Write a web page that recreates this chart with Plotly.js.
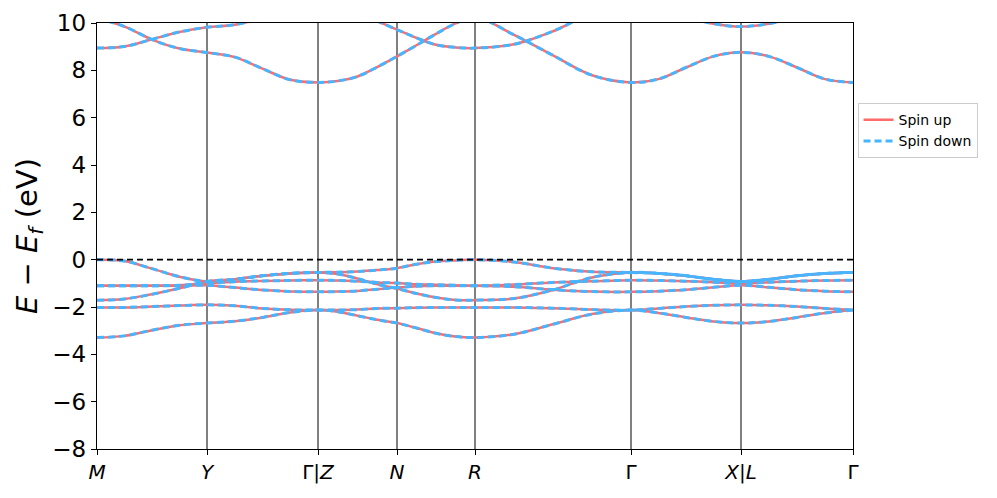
<!DOCTYPE html>
<html>
<head>
<meta charset="utf-8">
<script src="https://cdn.plot.ly/plotly-3.0.1.min.js"></script>
<style>
  html, body { margin: 0; padding: 0; background: #fff; }
  #chart { width: 997px; height: 498px; }
</style>
</head>
<body>
<div id="chart"></div>
<script>
// high-symmetry points along the k-path
const kTicks = [0, 1.10, 2.21, 3.00, 3.78, 5.34, 6.44, 7.56];
const kLabels = ['<i>M</i>', '<i>Y</i>', 'Γ|<i>Z</i>', '<i>N</i>', '<i>R</i>', 'Γ', '<i>X</i>|<i>L</i>', 'Γ'];

// band energies (eV) read at each high-symmetry point and the quarter points between them
const valence1 = [0, -0.06, -0.38, -0.72, -0.92, -0.83, -0.68, -0.58, -0.54, -0.53, -0.50, -0.44, -0.36, -0.19, -0.08, -0.03, 0, -0.10, -0.36, -0.51, -0.54, -0.58, -0.68, -0.83, -0.92, -0.83, -0.68, -0.58, -0.54];
const valence2 = [-1.71, -1.66, -1.46, -1.21, -0.92, -0.83, -0.68, -0.58, -0.54, -0.61, -0.80, -1.04, -1.22, -1.43, -1.60, -1.70, -1.71, -1.64, -1.28, -0.75, -0.54, -0.58, -0.68, -0.83, -0.92, -0.83, -0.68, -0.58, -0.54];
const valence3 = [-1.10, -1.10, -1.10, -1.08, -1.00, -0.93, -0.90, -0.88, -0.87, -0.88, -0.91, -0.96, -0.99, -1.04, -1.06, -1.08, -1.10, -1.05, -0.96, -0.91, -0.87, -0.88, -0.91, -0.95, -1.00, -0.95, -0.91, -0.88, -0.87];
const valence4 = [-1.10, -1.10, -1.10, -1.10, -1.08, -1.18, -1.28, -1.34, -1.36, -1.35, -1.32, -1.25, -1.18, -1.12, -1.10, -1.10, -1.10, -1.14, -1.27, -1.35, -1.36, -1.33, -1.27, -1.17, -1.08, -1.17, -1.27, -1.33, -1.36];
const valence5 = [-2.02, -2.02, -1.98, -1.94, -1.91, -1.95, -2.06, -2.12, -2.13, -2.13, -2.11, -2.06, -2.05, -2.03, -2.02, -2.02, -2.02, -2.02, -2.05, -2.11, -2.13, -2.06, -1.98, -1.93, -1.91, -1.93, -1.98, -2.06, -2.13];
const valence6 = [-3.29, -3.22, -2.98, -2.77, -2.68, -2.60, -2.44, -2.23, -2.13, -2.20, -2.37, -2.54, -2.68, -2.89, -3.11, -3.25, -3.29, -3.15, -2.73, -2.30, -2.13, -2.25, -2.44, -2.61, -2.68, -2.61, -2.44, -2.25, -2.13];
const conduction1 = [8.94, 9.01, 9.31, 9.62, 9.82, 9.93, 10.2, 10.5, 10.7, 10.65, 10.45, 10.08, 9.72, 9.37, 9.08, 8.97, 8.94, 9.10, 9.65, 10.4, 10.7, 10.55, 10.25, 9.97, 9.85, 9.97, 10.25, 10.55, 10.7];
const conduction2 = [10.2, 9.85, 9.30, 8.92, 8.75, 8.56, 8.07, 7.60, 7.49, 7.55, 7.74, 8.14, 8.59, 9.06, 9.54, 9.98, 10.25, 9.50, 8.63, 7.79, 7.49, 7.63, 8.12, 8.59, 8.76, 8.59, 8.12, 7.63, 7.49];

const bandsUp = [valence1, valence2, valence3, valence4, valence5, valence6, conduction1, conduction2];
const bandsDown = [valence1, valence2, valence3, valence4, valence5, valence6, conduction1, conduction2];

const UP_COLOR = '#ff6b6b';
const DOWN_COLOR = '#45b5ff';

// k sample positions: every tick plus the quarter points of each segment
function kSamples() {
  const k = [];
  for (let i = 0; i < kTicks.length - 1; i++) {
    const a = kTicks[i], b = kTicks[i + 1];
    [0, 0.25, 0.5, 0.75].forEach(f => k.push(a + f * (b - a)));
  }
  k.push(kTicks[kTicks.length - 1]);
  return k;
}

const k = kSamples();

function bandTraces(bands, name, line) {
  return bands.map((e, i) => ({
    type: 'scatter',
    mode: 'lines',
    x: k,
    y: e,
    name: name,
    legendgroup: name,
    showlegend: i === 0,
    hoverinfo: 'skip',
    line: Object.assign({shape: 'spline', smoothing: 1}, line),
  }));
}

const data = [
  ...bandTraces(bandsUp, 'Spin up', {color: UP_COLOR, width: 2.5}),
  ...bandTraces(bandsDown, 'Spin down', {color: DOWN_COLOR, width: 3, dash: '7px,4px'}),
];

const LAYOUT = {
  width: 997,
  height: 498,
  margin: {l: 97, r: 144, t: 23, b: 49},
  paper_bgcolor: 'white',
  plot_bgcolor: 'white',
  font: {family: 'DejaVu Sans', color: 'black'},
  showlegend: true,
  legend: {
    x: 1.006,
    y: 0.812,
    xanchor: 'left',
    yanchor: 'top',
    bgcolor: 'white',
    bordercolor: '#cccccc',
    borderwidth: 1,
    font: {size: 14},
    tracegroupgap: 0,
  },
  xaxis: {
    range: [kTicks[0], kTicks[kTicks.length - 1]],
    tickmode: 'array',
    tickvals: kTicks,
    ticktext: kLabels,
    tickfont: {size: 20},
    showgrid: true,
    gridcolor: '#808080',
    gridwidth: 1.5,
    zeroline: false,
    showline: true,
    mirror: true,
    linecolor: 'black',
    linewidth: 1.3,
    ticks: 'outside',
    ticklen: 5,
    tickcolor: 'black',
  },
  yaxis: {
    range: [-8, 10],
    tick0: 0,
    dtick: 2,
    tickfont: {size: 23},
    showgrid: false,
    zeroline: false,
    showline: true,
    mirror: true,
    linecolor: 'black',
    linewidth: 1.3,
    ticks: 'outside',
    ticklen: 5,
    tickcolor: 'black',
    title: {
      text: '<i>E</i> − <i>E<sub>f</sub></i> (eV)',
      font: {size: 29},
      standoff: 6,
    },
  },
  shapes: [{
    type: 'line',
    xref: 'paper',
    yref: 'y',
    x0: 0,
    x1: 1,
    y0: 0,
    y1: 0,
    line: {color: 'black', width: 1.6, dash: '6px,4px'},
  }],
};

Plotly.newPlot('chart', data, LAYOUT, {displayModeBar: false, staticPlot: true});
</script>
</body>
</html>
